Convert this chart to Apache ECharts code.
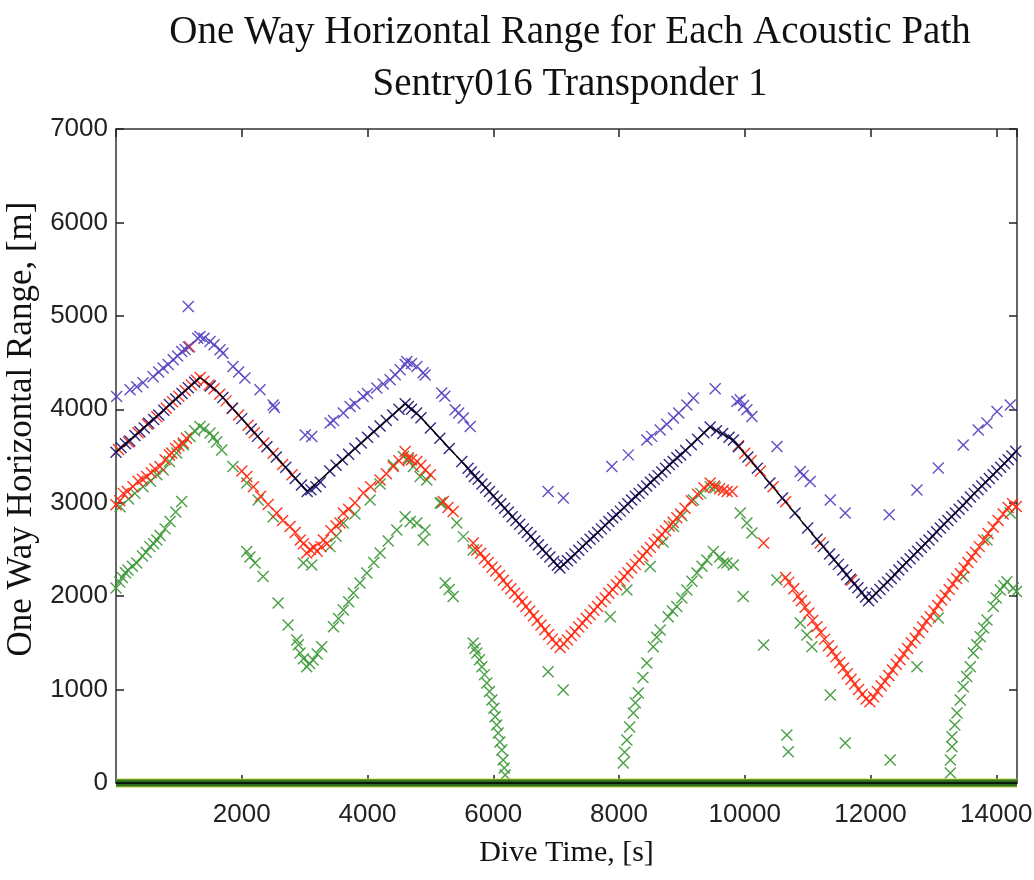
<!DOCTYPE html>
<html><head><meta charset="utf-8">
<script src="https://cdn.jsdelivr.net/npm/echarts@6/dist/echarts.min.js"></script>
<style>html,body{margin:0;padding:0;background:#fff}#c{width:1034px;height:880px}</style>
</head><body><div id="c"></div>
<script>
const titleLines = ['One Way Horizontal Range for Each Acoustic Path', 'Sentry016 Transponder 1'];
const xName = 'Dive Time, [s]';
const yName = 'One Way Horizontal Range, [m]';
const xTicks = [0, 2000, 4000, 6000, 8000, 10000, 12000, 14000];
const yTicks = [0, 1000, 2000, 3000, 4000, 5000, 6000, 7000];

// true (computed) range line
const truthLine = [[0,3540],[1340,4340],[1600,4200],[3040,3120],[4600,4060],[4840,3920],[7060,2300],[9450,3810],[9820,3670],[11970,1950],[14330,3560]];

// direct path (dark blue)
const navyPts = [[0,3540],[80,3590],[150,3630],[220,3660],[300,3720],[380,3760],[450,3800],[520,3850],[600,3890],[680,3940],[760,3990],[850,4050],[950,4110],[1050,4170],[1150,4230],[1250,4290],
[1500,4250],[1700,4125],[1850,4010],[2000,3900],[2150,3790],[2250,3710],[2400,3600],[2550,3490],[2700,3380],[2850,3260],[2950,3190],[3040,3120],[3100,3140],[3180,3170],[3250,3220],
[3400,3340],[3500,3400],[3600,3460],[3700,3520],[3800,3580],[3900,3640],[4000,3700],[4100,3760],[4200,3820],[4300,3880],[4400,3940],[4500,4000],[4600,4060],[4650,4030],[4700,4000],[4780,3960],[4850,3910],
[5000,3800],[5150,3690],[5300,3580],[5500,3440],[5600,3370],[5650,3330],[5700,3280],[5760,3250],[5820,3200],[5880,3160],[5940,3120],[6000,3070],[6060,3030],[6120,2990],[6180,2940],[6240,2900],[6300,2850],[6360,2810],[6420,2770],[6480,2720],[6540,2680],[6600,2640],[6660,2590],[6720,2550],[6780,2500],[6840,2460],[6900,2420],[6960,2370],[7020,2330],[7060,2300],
[7120,2340],[7180,2380],[7240,2410],[7300,2450],[7360,2490],[7420,2530],[7480,2570],[7540,2610],[7600,2640],[7660,2680],[7720,2720],[7780,2760],[7840,2800],[7900,2840],[7960,2870],[8020,2910],[8080,2950],[8140,2990],[8200,3030],[8260,3070],[8320,3100],[8380,3140],[8440,3180],[8500,3220],[8560,3250],[8620,3290],[8680,3330],[8740,3370],[8800,3410],[8860,3440],[8920,3480],[8980,3510],[9060,3560],[9150,3620],[9250,3680],[9350,3750],[9450,3810],[9550,3770],[9650,3740],[9750,3700],[9820,3670],
[9900,3600],[10050,3490],[10200,3370],[10400,3210],[10600,3050],[10800,2890],[11000,2730],[11150,2610],[11250,2530],[11350,2450],[11420,2390],[11490,2340],[11560,2280],[11620,2230],[11680,2180],[11740,2130],[11800,2090],[11860,2040],[11920,1990],[11970,1950],
[12030,1990],[12090,2030],[12150,2070],[12210,2110],[12270,2150],[12330,2190],[12390,2230],[12450,2280],[12510,2320],[12570,2360],[12630,2400],[12690,2440],[12750,2480],[12810,2520],[12870,2560],[12930,2600],[12990,2640],[13050,2690],[13110,2730],[13170,2770],[13230,2810],[13290,2850],[13350,2890],[13410,2930],[13470,2970],[13530,3010],[13590,3060],[13650,3100],[13710,3140],[13770,3180],[13830,3220],[13890,3260],[13950,3300],[14010,3340],[14070,3380],[14130,3420],[14190,3460],[14250,3500],[14310,3550]];

// upper multipath (purple)
const purplePts = [[10,4136],[223,4208],[330,4240],[430,4283],[590,4347],[680,4400],[750,4443],[830,4480],[910,4529],[980,4570],[1045,4618],[1100,4640],[1150,4668],[1150,5100],[1300,4760],[1336,4779],[1400,4760],[1495,4725],[1560,4690],[1655,4636],[1700,4600],[1860,4457],[1950,4400],[2050,4336],[2290,4208],[2500,4047],[2520,4020],[3010,3726],[3113,3708],[3405,3854],[3460,3880],[3615,3961],[3723,4029],[3800,4060],[3930,4136],[4000,4170],[4148,4229],[4250,4270],[4360,4315],[4440,4370],[4520,4422],[4600,4480],[4625,4511],[4700,4490],[4785,4458],[4885,4390],[4916,4368],[5180,4175],[5230,4140],[5394,3994],[5450,3960],[5523,3908],[5633,3815],[6873,3119],[7115,3051],[7886,3387],[8148,3512],[8443,3672],[8520,3710],[8655,3779],[8760,3840],[8866,3908],[8950,3960],[9080,4047],[9183,4122],[9530,4220],[9875,4083],[9928,4101],[9980,4040],[10034,3994],[10114,3922],[10512,3601],[10883,3333],[10930,3290],[11041,3226],[11360,3030],[11598,2890],[12298,2870],[12739,3137],[13078,3372],[13476,3619],[13714,3779],[13853,3854],[14012,3976],[14223,4047]];

// red path
const redPts = [[40,3570],[200,3650],[350,3750],[500,3840],[650,3920],[800,4010],[900,4080],[1000,4140],[1100,4200],[1200,4260],[1280,4310],[1340,4340],[1400,4300],[1480,4260],[1560,4220],[1650,4160],[1750,4090],[1850,4010],[1950,3940],[2100,3830],[2200,3750],[2350,3640],[2500,3530],[2650,3410],[2800,3300],[1170,4670],
[9900,3610],[10000,3530],[10100,3450],[10250,3340],[10450,3170],[10650,3010],[11200,2570],[11700,2170],
[0,2977],[60,3020],[115,3100],[180,3120],[270,3172],[350,3230],[420,3250],[488,3280],[560,3320],[620,3360],[700,3387],[780,3460],[850,3510],[886,3533],[950,3580],[1000,3610],[1070,3640],[1120,3690],
[2000,3340],[2080,3280],[2185,3172],[2300,3070],[2420,2980],[2557,2890],[2650,2810],[2768,2745],[2850,2680],[2930,2600],[2980,2560],[3034,2463],[3090,2500],[3150,2520],[3200,2480],[3260,2530],[3300,2600],[3352,2560],[3420,2700],[3500,2750],[3564,2784],[3615,2890],[3700,2930],[3800,3000],[3935,3105],[4050,3170],[4200,3244],[4300,3310],[4410,3387],[4500,3450],[4598,3547],[4650,3480],[4700,3460],[4785,3440],[4850,3400],[4916,3351],
[5000,3300],[5206,3012],[5280,2950],[5362,2905],[5681,2570],[5739,2495],[5800,2460],[5860,2400],[5920,2360],[5980,2310],[6040,2270],[6100,2220],[6160,2170],[6220,2120],[6280,2080],[6340,2030],[6400,1990],[6460,1940],[6520,1890],[6580,1840],[6640,1790],[6700,1740],[6760,1690],[6820,1640],[6880,1590],[6940,1540],[7000,1490],[7064,1450],
[7120,1490],[7180,1530],[7240,1580],[7300,1620],[7360,1670],[7420,1710],[7480,1760],[7540,1800],[7600,1850],[7660,1890],[7720,1940],[7780,1980],[7840,2030],[7900,2070],[7960,2120],[8020,2160],[8080,2210],[8140,2250],[8200,2300],[8260,2340],[8320,2390],[8380,2430],[8440,2480],[8500,2520],[8560,2570],[8620,2610],[8680,2660],[8740,2700],[8800,2750],[8860,2790],[8920,2840],[8980,2880],[9050,2940],[9150,3020],[9250,3090],[9350,3160],[9450,3212],[9520,3180],[9600,3150],[9660,3137],[9720,3120],[9800,3120],
[10300,2570],[10650,2200],[10700,2150],[10780,2080],[10850,2000],[10900,1950],[10960,1880],[11020,1820],[11080,1740],[11148,1673],[11210,1610],[11270,1540],[11330,1470],[11390,1410],[11450,1350],[11510,1290],[11570,1230],[11630,1170],[11690,1110],[11750,1060],[11810,1000],[11870,950],[11930,900],[11990,870],
[12050,920],[12110,980],[12170,1040],[12230,1090],[12290,1150],[12350,1210],[12410,1270],[12470,1320],[12530,1380],[12590,1440],[12650,1500],[12710,1550],[12770,1610],[12830,1670],[12890,1730],[12950,1780],[13010,1840],[13070,1900],[13130,1960],[13190,2010],[13250,2070],[13310,2130],[13370,2190],[13430,2240],[13490,2300],[13550,2360],[13610,2420],[13670,2470],[13730,2530],[13800,2600],[13870,2670],[13950,2740],[14030,2810],[14110,2880],[14190,2950],[14260,2990],[14320,2960]];

// green path
const greenPts = [[0,2088],[60,2150],[100,2200],[150,2250],[190,2280],[260,2320],[330,2355],[420,2430],[480,2470],[540,2530],[600,2560],[650,2600],[700,2650],[780,2720],[860,2798],[950,2900],[1045,3012],
[64,2958],[200,3040],[300,3100],[430,3172],[550,3230],[650,3300],[750,3351],[850,3440],[965,3533],[1070,3620],[1177,3708],[1250,3770],[1336,3815],[1400,3790],[1495,3747],[1550,3700],[1600,3650],[1682,3565],[1860,3387],[2080,3212],[2260,3030],[2500,2851],
[2080,2477],[2130,2420],[2212,2355],[2340,2209],[2578,1927],[2736,1692],[2875,1531],[2900,1480],[2927,1392],[2980,1330],[3034,1245],[3080,1280],[3134,1317],[3200,1380],[3272,1459],[2980,2355],[3113,2334],
[3458,1673],[3540,1760],[3615,1852],[3700,1940],[3775,2034],[3880,2140],[3990,2248],[4100,2360],[4200,2463],[4330,2590],[4466,2709],[4598,2851],[4680,2800],[4785,2784],[4916,2709],
[3405,2530],[3500,2640],[3615,2784],[3800,2880],[4041,3030],[4200,3200],[4410,3405],[4570,3494],[4650,3460],[4730,3387],[4837,3280],[4943,3244],
[5155,2998],[5180,2998],[5420,2784],[4885,2602],[5235,2141],[5300,2070],[5362,1995],[5523,2637],[5680,2495],
[5680,1499],[5710,1440],[5739,1392],[5780,1320],[5818,1245],[5860,1160],[5898,1071],[5940,980],[5978,889],[6010,800],[6030,710],[6055,620],[6078,535],[6105,440],[6136,353],[6157,246],[6175,160],[6189,86],
[6873,1192],[7112,996],[7860,1780],[8125,2066],
[8068,214],[8090,330],[8125,460],[8170,600],[8228,749],[8260,860],[8307,964],[8380,1130],[8443,1285],[8545,1459],[8600,1560],[8655,1638],[8783,1780],[8850,1840],[8920,1888],[9000,1980],[9080,2066],[9160,2160],[9240,2248],[9320,2320],[9398,2388],[9500,2477],[9600,2420],[9716,2355],[9817,2334],
[8496,2316],[8700,2580],[8866,2745],[9000,2860],[9183,3030],[9300,3100],[9450,3172],[9530,3160],
[9657,2355],[9928,2890],[10034,2784],[10114,2677],[9976,1995],[10512,2173],[10300,1478],[10883,1713],[10989,1585],[11068,1459],[11360,942],[10670,514],[10692,335],[11598,428],[12314,246],[12739,1245],[13078,1767],[13476,2209],
[13270,107],[13270,246],[13296,389],[13296,496],[13340,620],[13375,749],[13428,889],[13476,1031],[13530,1140],[13587,1245],[13635,1392],[13690,1480],[13746,1566],[13800,1660],[13853,1745],[13953,1888],[14000,1980],[14064,2066],[14120,2110],[14170,2155],[14272,2088],[14320,2050],[13853,2602],[14223,2890]];

// failed detections recorded at zero range
const zeroLine = [[0,0],[14330,0]];

const X_SYM = 'path://M0 0L10 10M10 0L0 10';
function crossSeries(name, data, color, z) {
  return { name, type: 'scatter', data, symbol: X_SYM, symbolSize: 11, z,
    itemStyle: { color: 'rgba(0,0,0,0)', borderColor: color, borderWidth: 1.4, opacity: 0.95 }, silent: true };
}
const serifF = '"Liberation Serif", "Times New Roman", serif';
const sansF = '"Liberation Sans", Arial, sans-serif';
const plain = v => String(v);
const axisCommon = { type: 'value', splitLine: { show: false },
  axisLine: { show: true, onZero: false, lineStyle: { color: '#333', width: 1.5 } },
  axisTick: { show: true, inside: true, length: 8, lineStyle: { color: '#222', width: 1.5 } } };

const chart = echarts.init(document.getElementById('c'), null, { renderer: 'canvas' });
chart.setOption({
  animation: false,
  backgroundColor: '#fff',
  title: [
    { text: titleLines[0], left: 565, top: 8, textAlign: 'center', textStyle: { fontFamily: serifF, fontSize: 39, fontWeight: 'normal', color: '#111' } },
    { text: titleLines[1], left: 565, top: 60, textAlign: 'center', textStyle: { fontFamily: serifF, fontSize: 39, fontWeight: 'normal', color: '#111' } }
  ],
  grid: { left: 116, right: 17, top: 129, bottom: 97, containLabel: false, outerBoundsMode: 'none' },
  xAxis: [
    Object.assign({}, axisCommon, { position: 'bottom', min: xTicks[0], max: 14330, interval: xTicks[1] - xTicks[0],
      axisLabel: { fontFamily: sansF, fontSize: 26, color: '#222', margin: 19, showMinLabel: false, showMaxLabel: false, formatter: plain },
      name: xName, nameLocation: 'middle', nameGap: 55, nameTextStyle: { fontFamily: serifF, fontSize: 30, color: '#111' } }),
    Object.assign({}, axisCommon, { position: 'top', min: xTicks[0], max: 14330, interval: xTicks[1] - xTicks[0], axisLabel: { show: false } })
  ],
  yAxis: [
    Object.assign({}, axisCommon, { position: 'left', min: yTicks[0], max: yTicks[yTicks.length - 1], interval: yTicks[1] - yTicks[0],
      axisLabel: { fontFamily: sansF, fontSize: 26, color: '#222', margin: 8, formatter: plain },
      name: yName, nameLocation: 'middle', nameGap: 68, nameTextStyle: { fontFamily: serifF, fontSize: 35, color: '#111', padding: [0, 0, 0, 54] } }),
    Object.assign({}, axisCommon, { position: 'right', min: yTicks[0], max: yTicks[yTicks.length - 1], interval: yTicks[1] - yTicks[0], axisLabel: { show: false } })
  ],
  series: [
    crossSeries('green', greenPts, '#3f9a3a', 3),
    crossSeries('red', redPts, '#ff2a12', 4),
    crossSeries('purple', purplePts, '#5a46c2', 5),
    crossSeries('navy', navyPts, '#261c7c', 6),
    { name: 'truth', type: 'line', data: truthLine, symbol: 'none', z: 7, lineStyle: { color: '#000', width: 1.3 }, silent: true },
    { name: 'zeroY', type: 'line', data: zeroLine, symbol: 'none', z: 8, clip: false, lineStyle: { color: '#b5cf3a', width: 9 }, silent: true },
    { name: 'zeroG', type: 'line', data: zeroLine, symbol: 'none', z: 9, clip: false, lineStyle: { color: '#2f6e1c', width: 7 }, silent: true },
    { name: 'zeroK', type: 'line', data: zeroLine, symbol: 'none', z: 10, clip: false, lineStyle: { color: '#0a1a0a', width: 2 }, silent: true }
  ]
});
</script>
</body></html>
